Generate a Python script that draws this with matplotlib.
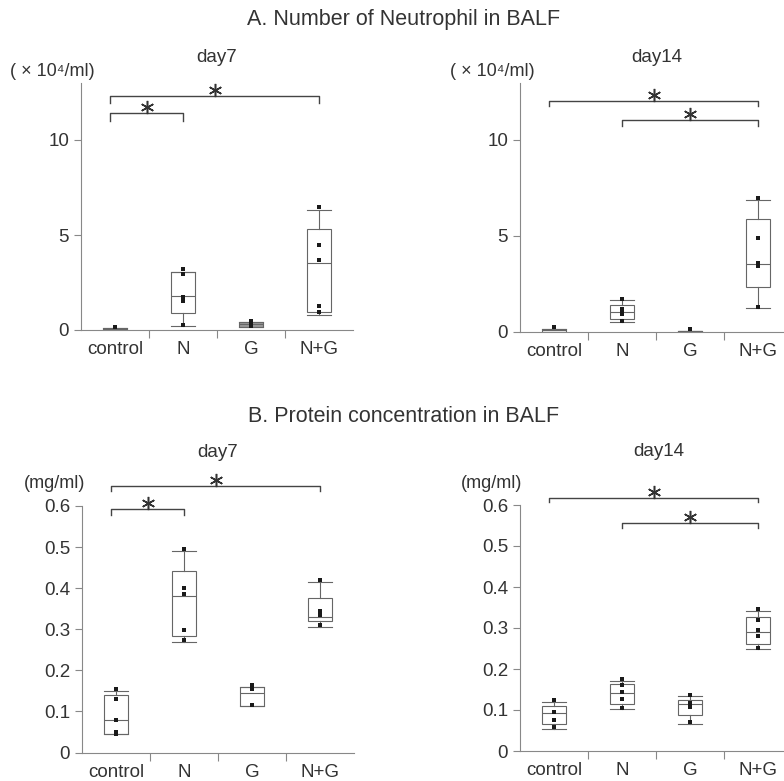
import matplotlib.pyplot as plt

plt.rcParams["font.family"] = ["Liberation Sans", "DejaVu Sans"]

TEXT = "#333333"
LINE = "#666666"

GROUPS = ["control", "N", "G", "N+G"]

# box stats per group: (whislo, q1, med, q3, whishi)
A7_BOX = [(0.0, 0.0, 0.05, 0.1, 0.1), (0.2, 0.9, 1.8, 3.05, 3.05),
          (0.15, 0.15, 0.3, 0.4, 0.4), (0.8, 0.96, 3.55, 5.3, 6.3)]
A7_PTS = [[0.15], [3.2, 2.95, 1.75, 1.55, 0.25], [0.2, 0.3, 0.45], [6.45, 4.5, 3.7, 1.25, 0.95]]
A14_BOX = [(0.0, 0.0, 0.08, 0.15, 0.15), (0.47, 0.64, 1.0, 1.4, 1.67),
           (0.0, 0.0, 0.03, 0.05, 0.05), (1.25, 2.3, 3.52, 5.85, 6.86)]
A14_PTS = [[0.23], [1.7, 1.2, 1.0, 0.9, 0.55], [0.15], [6.95, 4.9, 3.6, 3.4, 1.3]]
B7_BOX = [(0.045, 0.045, 0.078, 0.14, 0.15), (0.269, 0.283, 0.382, 0.443, 0.491),
          (0.112, 0.112, 0.146, 0.159, 0.159), (0.305, 0.32, 0.331, 0.377, 0.415)]
B7_PTS = [[0.155, 0.13, 0.08, 0.05, 0.045], [0.496, 0.40, 0.385, 0.298, 0.275],
          [0.165, 0.155, 0.115], [0.42, 0.345, 0.335, 0.31]]
B14_BOX = [(0.054, 0.065, 0.092, 0.11, 0.12), (0.102, 0.114, 0.141, 0.163, 0.171),
           (0.067, 0.088, 0.115, 0.124, 0.134), (0.248, 0.261, 0.29, 0.328, 0.341)]
B14_PTS = [[0.125, 0.095, 0.075, 0.058], [0.175, 0.16, 0.145, 0.128, 0.105],
           [0.137, 0.118, 0.108, 0.07], [0.346, 0.32, 0.294, 0.281, 0.252]]

# significance brackets: (group i, group j, height, drop)
A7_SIG = [(0, 1, 11.4, 0.4), (0, 3, 12.3, 0.35)]
A14_SIG = [(0, 3, 12.05, 0.3), (1, 3, 11.05, 0.3)]
B7_SIG = [(0, 1, 0.592, 0.013), (0, 3, 0.649, 0.013)]
B14_SIG = [(0, 3, 0.616, 0.009), (1, 3, 0.555, 0.012)]


def panel(rect, boxes, pts, sig, ylim, yticks, yticklabels, unit, unit_xy, day, day_xy, gray_fill=None):
    ax = fig.add_axes(rect)
    stats = []
    for name, (lo, q1, med, q3, hi) in zip(GROUPS, boxes):
        stats.append(dict(label=name, whislo=lo, q1=q1, med=med, q3=q3, whishi=hi, fliers=[]))
    bp = ax.bxp(stats, positions=range(4), widths=0.34, capwidths=0.34,
                showfliers=False, patch_artist=True,
                boxprops=dict(facecolor="white", edgecolor=LINE, linewidth=0.8),
                medianprops=dict(color=LINE, linewidth=0.8),
                whiskerprops=dict(color=LINE, linewidth=0.8),
                capprops=dict(color=LINE, linewidth=0.8))
    if gray_fill is not None:
        bp["boxes"][gray_fill].set_facecolor("#999999")
    for i, vals in enumerate(pts):
        ax.scatter([i] * len(vals), vals, marker="s", s=5, color="#1a1a1a", zorder=4, linewidths=0)

    # asterisk sits ~6 px above its bracket
    yr = ylim[1] - ylim[0]
    star_off = yr * 6 / (rect[3] * H)
    for i, j, h, d in sig:
        xi = i - 0.07 if i == 0 else i
        ax.plot([xi, xi, j, j], [h - d, h, h, h - d], color="#444444", linewidth=1.0, clip_on=False)
        ax.plot([(xi + j) / 2], [h + star_off], marker=(6, 2, 0), markersize=9.5,
                markeredgewidth=1.1, color="#333333", linestyle="none", clip_on=False)

    ax.set_xlim(-0.5, 3.5)
    ax.set_ylim(*ylim)
    ax.set_yticks(yticks)
    ax.set_yticklabels(yticklabels)
    ax.set_xticks(range(4))
    ax.set_xticklabels(GROUPS)
    ax.set_xticks([0.5, 1.5, 2.5], minor=True)
    ax.tick_params(axis="x", which="major", length=0, labelsize=13.5, labelcolor=TEXT, pad=8)
    ax.tick_params(axis="x", which="minor", length=6, width=0.8, color="#888888", direction="out")
    ax.tick_params(axis="y", length=5, width=0.8, color="#888888", labelsize=13.5, labelcolor=TEXT)
    for sp in ("top", "right"):
        ax.spines[sp].set_visible(False)
    for sp in ("left", "bottom"):
        ax.spines[sp].set_color("#888888")
        ax.spines[sp].set_linewidth(0.8)
    ax.patch.set_alpha(0)

    fig.text(unit_xy[0] / W, 1 - unit_xy[1] / H, unit, ha="center", va="center", fontsize=13, color=TEXT)
    fig.text(day_xy[0] / W, 1 - day_xy[1] / H, day, ha="center", va="center", fontsize=13.5, color=TEXT)
    return ax


W, H = 784, 781
fig = plt.figure(figsize=(W / 100, H / 100), dpi=100)
fig.patch.set_facecolor("white")

fig.text(404 / W, 1 - 20 / H, "A. Number of Neutrophil in BALF", ha="center", va="center",
         fontsize=15.5, color=TEXT)
fig.text(404 / W, 1 - 417 / H, "B. Protein concentration in BALF", ha="center", va="center",
         fontsize=15.5, color=TEXT)

unit_a = "( × 10\u2074/ml)"
panel([81 / W, 1 - 330 / H, 272 / W, 247 / H], A7_BOX, A7_PTS, A7_SIG, (0, 13),
      [0, 5, 10], ["0", "5", "10"], unit_a, (52, 71), "day7", (217, 58), gray_fill=2)
panel([520 / W, 1 - 331.5 / H, 272 / W, 249 / H], A14_BOX, A14_PTS, A14_SIG, (0, 13),
      [0, 5, 10], ["0", "5", "10"], unit_a, (492, 71), "day14", (657, 58))

b_ticks = [0, 0.1, 0.2, 0.3, 0.4, 0.5, 0.6]
b_labels = ["0", "0.1", "0.2", "0.3", "0.4", "0.5", "0.6"]
panel([82 / W, 1 - 752.5 / H, 272 / W, 246.5 / H], B7_BOX, B7_PTS, B7_SIG, (0, 0.6),
      b_ticks, b_labels, "(mg/ml)", (55, 483), "day7", (218, 453))
panel([520 / W, 1 - 751 / H, 272 / W, 246 / H], B14_BOX, B14_PTS, B14_SIG, (0, 0.6),
      b_ticks, b_labels, "(mg/ml)", (492, 483), "day14", (659, 452))

fig.savefig("out.png", dpi=100, facecolor="white")
